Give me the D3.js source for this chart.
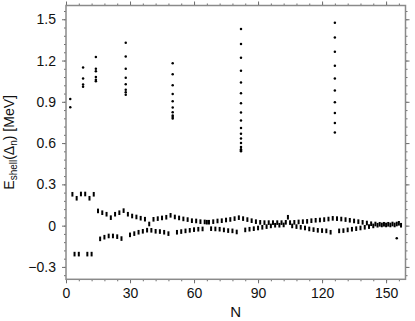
<!DOCTYPE html>
<html>
  <head>
    <meta charset="utf-8">
    <title>E shell vs N</title>
    <script src="https://d3js.org/d3.v7.min.js"></script>
    <style>
      body { margin: 0; background: #fff; }
      svg { display: block; font-family: "Liberation Sans", Arial, Helvetica, sans-serif; }
      .axis path.domain { display: none; }
      .axis .tick line { stroke: #6e6e6e; stroke-width: 1; }
      .axis .tick text { font-size: 14px; fill: #111; }
      .frame { fill: none; stroke: #8a8a8a; stroke-width: 1.5; }
    </style>
  </head>
  <body>
    <svg id="chart" width="415" height="321"></svg>
    <script>
      // tick labels
      var xMajor = [0, 30, 60, 90, 120, 150];
      var yMajor = [-0.3, 0, 0.3, 0.6, 0.9, 1.2, 1.5];

      // magic neutron numbers: vertical columns of points
      var magicN = [2, 8, 14, 28, 50, 82, 126];
      var col2 = [0.92, 0.86];
      var col8 = [1.15, 1.07, 1.025, 1.01];
      var col14 = [1.225, 1.14, 1.123, 1.08, 1.06, 1.05];
      var col28 = [1.33, 1.23, 1.14, 1.075, 1.027, 0.988, 0.969, 0.952];
      var col50 = [1.18, 1.10, 1.02, 0.957, 0.904, 0.858, 0.824, 0.80, 0.79, 0.778];
      var col82 = [1.43, 1.32, 1.22, 1.126, 1.041, 0.962, 0.889, 0.822, 0.764, 0.71, 0.667, 0.633, 0.601, 0.572, 0.556, 0.547, 0.541];
      var col126 = [1.474, 1.367, 1.264, 1.162, 1.07, 0.983, 0.896, 0.819, 0.746, 0.677];

      // odd N branch
      var oddN = [3, 5, 7, 9, 11, 13, 15, 17, 19, 21, 23, 25, 27, 29, 31, 33, 35, 37, 39,
        41, 43, 45, 47, 49, 51, 53, 55, 57, 59, 61, 63, 65, 67, 69, 71, 73, 75, 77, 79,
        81, 83, 85, 87, 89, 91, 93, 95, 97, 99, 101, 103, 105, 107, 109, 111, 113, 115, 117, 119,
        121, 123, 125, 127, 129, 131, 133, 135, 137, 139, 141, 143, 145, 147, 149, 151, 153, 155, 157];
      var oddVals = [0.228, 0.199, 0.23, 0.23, 0.199, 0.228,
        0.107, 0.094, 0.083, 0.058, 0.083, 0.094, 0.109, 0.083, 0.07, 0.063, 0.054, 0.047, 0.012,
        0.046, 0.051, 0.056, 0.061, 0.075, 0.063, 0.056, 0.049, 0.044, 0.036,
        0.034, 0.029, 0.027, 0.025, 0.029, 0.034, 0.036, 0.041, 0.045, 0.051,
        0.058, 0.051, 0.044, 0.036, 0.029, 0.024, 0.022, 0.022, 0.022, 0.022,
        0.022, 0.024, 0.022, 0.024, 0.027, 0.029, 0.031, 0.036, 0.039, 0.041,
        0.044, 0.048, 0.053, 0.051, 0.048, 0.044, 0.039, 0.034, 0.029, 0.024,
        0.019, 0.014, 0.012, 0.01, 0.01, 0.01, 0.012, 0.012, 0.003];

      // even N branch (magic N left out)
      var evenN = [4, 6, 10, 12, 16, 18, 20, 22, 24, 26,
        30, 32, 34, 36, 38, 40, 42, 44, 46, 48, 52, 54, 56, 58, 60, 62, 64, 66, 68, 70, 72, 74, 76, 78, 80,
        84, 86, 88, 90, 92, 94, 96, 98, 100, 102, 104, 106, 108, 110, 112, 114, 116, 118, 120, 122, 124,
        128, 130, 132, 134, 136, 138, 140, 142, 144, 146, 148, 150, 152, 154, 156];
      var evenVals = [-0.207, -0.207, -0.207, -0.207, -0.096, -0.084, -0.075, -0.075, -0.08, -0.094,
        -0.067, -0.058, -0.048, -0.041, -0.033, -0.034, -0.041, -0.043, -0.048, -0.058,
        -0.048, -0.043, -0.038, -0.034, -0.029, -0.026, -0.024, 0.025, -0.022, -0.024, -0.026, -0.031, -0.036, -0.038, -0.046,
        -0.031, -0.026, -0.022, -0.017, -0.012, -0.007, -0.002, 0.003, 0.003, 0.005, 0.061,
        -0.002, -0.007, -0.012, -0.017, -0.024, -0.029, -0.034, -0.036, -0.038, -0.048,
        -0.038, -0.036, -0.031, -0.026, -0.022, -0.017, -0.012, -0.007, -0.002, 0.003, 0.005, 0.005, 0.005, 0.005, 0.017];

      // stray point
      var strayN = [155];
      var strayVals = [-0.092];

      var svg = d3.select("#chart");
      var margin = { top: 5.5, right: 9.5, bottom: 41.7, left: 66 };
      var width = 415, height = 321;

      var x = d3.scaleLinear()
        .domain([0, 159.1])
        .range([margin.left, width - margin.right]);
      var y = d3.scaleLinear()
        .domain([-0.39, 1.6])
        .range([height - margin.bottom, margin.top]);

      var xMinor = d3.range(0, 159, 6);
      var yMinor = d3.range(-6, 27).map(function(i) { return +(i * 0.06).toFixed(2); });

      var fmt = function(d) { return d === 0 ? "0" : d3.format(".1f")(d); };
      var x0 = height - margin.bottom, y0 = margin.top;
      var xl = margin.left, xr = width - margin.right;

      // minor ticks
      svg.append("g").attr("class", "axis").attr("transform", "translate(0," + x0 + ")")
        .call(d3.axisBottom(x).tickValues(xMinor).tickSize(2).tickFormat(""));
      svg.append("g").attr("class", "axis").attr("transform", "translate(0," + y0 + ")")
        .call(d3.axisTop(x).tickValues(xMinor).tickSize(2).tickFormat(""));
      svg.append("g").attr("class", "axis").attr("transform", "translate(" + xl + ",0)")
        .call(d3.axisLeft(y).tickValues(yMinor).tickSize(2).tickFormat(""));
      svg.append("g").attr("class", "axis").attr("transform", "translate(" + xr + ",0)")
        .call(d3.axisRight(y).tickValues(yMinor).tickSize(2).tickFormat(""));

      // major ticks + labels
      svg.append("g").attr("class", "axis").attr("transform", "translate(0," + x0 + ")")
        .call(d3.axisBottom(x).tickValues(xMajor).tickSize(4).tickPadding(5).tickFormat(d3.format("d")));
      svg.append("g").attr("class", "axis").attr("transform", "translate(0," + y0 + ")")
        .call(d3.axisTop(x).tickValues(xMajor).tickSize(4).tickFormat(""));
      svg.append("g").attr("class", "axis").attr("transform", "translate(" + xl + ",0)")
        .call(d3.axisLeft(y).tickValues(yMajor).tickSize(4).tickPadding(6).tickFormat(fmt));
      svg.append("g").attr("class", "axis").attr("transform", "translate(" + xr + ",0)")
        .call(d3.axisRight(y).tickValues(yMajor).tickSize(4).tickFormat(""));

      svg.append("rect").attr("class", "frame")
        .attr("x", xl).attr("y", y0)
        .attr("width", xr - xl).attr("height", x0 - y0);

      // branch points (each one a short bar of overlapping nuclei)
      var branch = oddN.map(function(n, i) { return { n: n, v: oddVals[i] }; })
        .concat(evenN.map(function(n, i) { return { n: n, v: evenVals[i] }; }));
      svg.append("g").selectAll("rect")
        .data(branch)
        .enter().append("rect")
          .attr("x", function(d) { return x(d.n) - 1; })
          .attr("y", function(d) { return y(d.v) - 2.3; })
          .attr("width", 2)
          .attr("height", 4.6)
          .attr("fill", "#000");

      // magic columns + stray point
      var cols = [col2, col8, col14, col28, col50, col82, col126];
      var dots = [];
      magicN.forEach(function(n, i) {
        cols[i].forEach(function(v) { dots.push({ n: n, v: v }); });
      });
      strayN.forEach(function(n, i) { dots.push({ n: n, v: strayVals[i] }); });
      svg.append("g").selectAll("circle")
        .data(dots)
        .enter().append("circle")
          .attr("cx", function(d) { return x(d.n); })
          .attr("cy", function(d) { return y(d.v); })
          .attr("r", 1.25)
          .attr("fill", "#000");

      // axis titles
      svg.append("text")
        .attr("x", (xl + xr) / 2)
        .attr("y", 316.5)
        .attr("text-anchor", "middle")
        .attr("font-size", 15)
        .attr("fill", "#111")
        .text("N");

      var yt = svg.append("text")
        .attr("transform", "translate(13.5," + ((y0 + x0) / 2) + ") rotate(-90)")
        .attr("text-anchor", "middle")
        .attr("font-size", 14)
        .attr("fill", "#111");
      yt.append("tspan").text("E");
      yt.append("tspan").attr("font-size", 10).attr("dy", 3).text("shell");
      yt.append("tspan").attr("dy", -3).text("(\u0394");
      yt.append("tspan").attr("font-size", 10).attr("dy", 3).text("n");
      yt.append("tspan").attr("dy", -3).text(") [MeV]");
    </script>
  </body>
</html>
